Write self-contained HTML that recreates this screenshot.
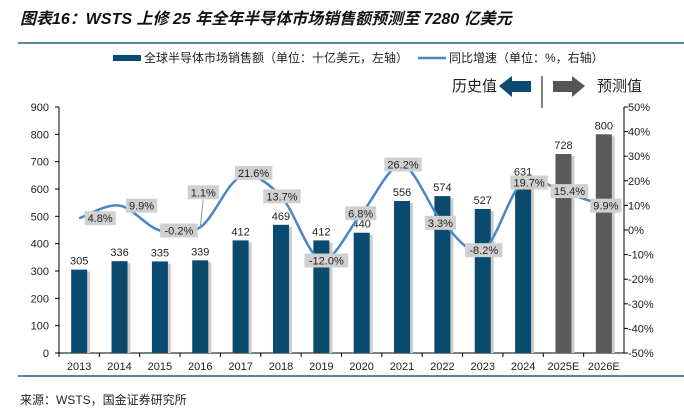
<!DOCTYPE html>
<html><head><meta charset="utf-8"><style>
body{margin:0;background:#fff;width:684px;height:407px;overflow:hidden;font-family:"Liberation Sans","Noto Sans CJK SC",sans-serif}
svg text{font-family:"Liberation Sans","Noto Sans CJK SC",sans-serif}
</style></head><body>
<svg id="c" width="684" height="407">
<text x="20" y="24" font-size="16" font-weight="bold" font-style="italic" fill="#111">图表16：WSTS 上修 25 年全年半导体市场销售额预测至 7280 亿美元</text>
<line x1="18" y1="43" x2="684" y2="43" stroke="#5a87a0" stroke-width="2"/>
<rect x="113" y="55" width="28" height="6" fill="#0a4a6e"/>
<text x="144" y="62" font-size="12" fill="#222">全球半导体市场销售额（单位：十亿美元，左轴）</text>
<line x1="418" y1="58" x2="446" y2="58" stroke="#4a86c6" stroke-width="2.5"/>
<text x="449" y="62" font-size="12" fill="#222">同比增速（单位：%，右轴）</text>
<text x="452" y="91" font-size="15" fill="#222">历史值</text>
<polygon points="499,86 512,76 512,81 531,81 531,92 512,92 512,97" fill="#0a4a6e"/>
<line x1="542" y1="76" x2="542" y2="108" stroke="#000" stroke-width="1"/>
<polygon points="553,81 572,81 572,76 585,86 572,97 572,92 553,92" fill="#555"/>
<text x="597" y="91" font-size="15" fill="#222">预测值</text>
<g id="plot"></g>
<line x1="18" y1="376" x2="684" y2="376" stroke="#5a87a0" stroke-width="2"/>
<text x="20" y="404" font-size="12" fill="#222">来源：WSTS，国金证券研究所</text>
</svg>
<script>
const categories=["2013","2014","2015","2016","2017","2018","2019","2020","2021","2022","2023","2024","2025E","2026E"];
const sales=[305,336,335,339,412,469,412,440,556,574,527,631,728,800];
const growth=[4.8,9.9,-0.2,1.1,21.6,13.7,-12.0,6.8,26.2,3.3,-8.2,19.7,15.4,9.9];
const leftTicks=[0,100,200,300,400,500,600,700,800,900];
const rightTicks=[-50,-40,-30,-20,-10,0,10,20,30,40,50];
const lblDx=[21,22,19,3,13,1,5,-1,1,-2,1,6,6,2];
const lblDy=[0,0,0,-35,-4,0,1,0,-1,1,0,1,-1,0];
const NS="http://www.w3.org/2000/svg",g=document.getElementById('plot');
const L=59,R=624,T=107,B=353;
const bw=(R-L)/categories.length;
const xc=i=>L+bw*(i+0.5);
const yl=v=>B-(v/900)*(B-T);
const yr=v=>B-((v+50)/100)*(B-T);
function mk(t,a,txt){const e=document.createElementNS(NS,t);for(const k in a)e.setAttribute(k,a[k]);if(txt!=null)e.textContent=txt;g.appendChild(e);return e;}
let e=mk('line',{x1:L,y1:T,x2:L,y2:B,stroke:'#000'});

e=mk('line',{x1:R,y1:T,x2:R,y2:B,stroke:'#000'});

e=mk('line',{x1:L,y1:B,x2:R,y2:B,stroke:'#000'});

leftTicks.forEach(v=>{
 e=mk('line',{x1:L-4,y1:yl(v),x2:L,y2:yl(v),stroke:'#000'});
 
 e=mk('text',{x:L-10,y:yl(v)+4,'font-size':11,'text-anchor':'end',fill:'#222'},v);
 
});
rightTicks.forEach(v=>{
 e=mk('line',{x1:R,y1:yr(v),x2:R+4,y2:yr(v),stroke:'#000'});
 
 e=mk('text',{x:R+4,y:yr(v)+4,'font-size':11,fill:'#222'},v+'%');
 
});
categories.forEach((c,i)=>{
 e=mk('line',{x1:L+bw*i,y1:B,x2:L+bw*i,y2:B+4,stroke:'#000'});
 
 const col=c.endsWith('E')?'#595959':'#0a4a6e';
 e=mk('rect',{x:xc(i)-8+3,y:yl(sales[i])+2,width:16,height:B-yl(sales[i])-2,fill:'#ccc'});
 
 e=mk('rect',{x:xc(i)-8,y:yl(sales[i]),width:16,height:B-yl(sales[i]),fill:col});
 
 e=mk('text',{x:xc(i),y:yl(sales[i])-5,'font-size':11,'text-anchor':'middle',fill:'#222'},sales[i]);
 
 e=mk('text',{x:xc(i),y:B+17,'font-size':11,'text-anchor':'middle',fill:'#222'},c);
 
});
const pts=growth.map((v,i)=>[xc(i),yr(v)]);
let d='M'+pts[0][0]+','+pts[0][1];
for(let i=0;i<pts.length-1;i++){
 const p0=pts[i-1]||pts[i],p1=pts[i],p2=pts[i+1],p3=pts[i+2]||p2,t=6;
 d+=' C'+(p1[0]+(p2[0]-p0[0])/t)+','+(p1[1]+(p2[1]-p0[1])/t)+' '+(p2[0]-(p3[0]-p1[0])/t)+','+(p2[1]-(p3[1]-p1[1])/t)+' '+p2[0]+','+p2[1];
}
e=mk('path',{d:d,fill:'none',stroke:'#4a86c6','stroke-width':2.5});

growth.forEach((v,i)=>{
 const lx=pts[i][0]+lblDx[i],ly=pts[i][1]+lblDy[i];
 const s=v.toFixed(1)+'%',w=s.length*6.3+6;
 if(lblDy[i]<-10){e=mk('line',{x1:pts[i][0],y1:pts[i][1],x2:lx,y2:ly+7,stroke:'#999'});
  }
 e=mk('rect',{x:lx-w/2,y:ly-7,width:w,height:14,fill:'#d0d0d0'});
 
 e=mk('text',{x:lx,y:ly+4,'font-size':11,'text-anchor':'middle',fill:'#222'},s);
 
});
</script>
</body></html>
